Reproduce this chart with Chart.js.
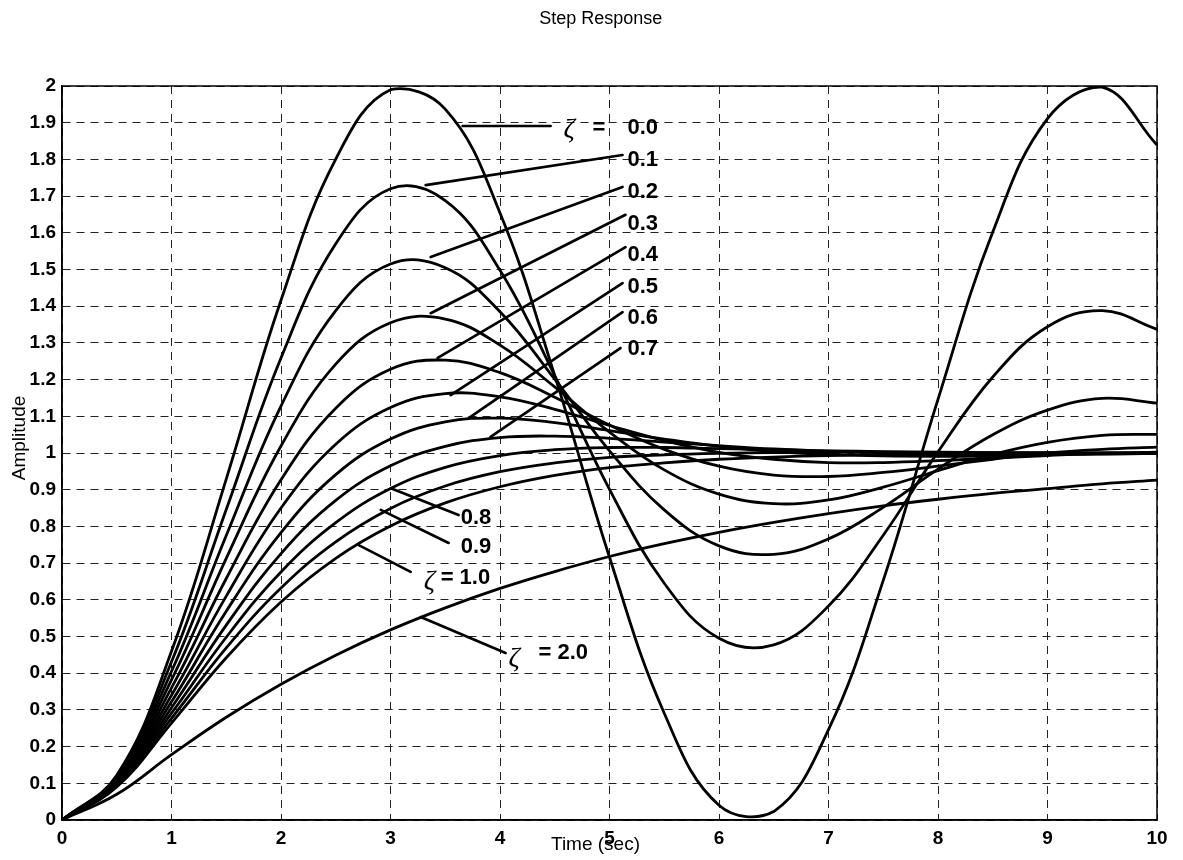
<!DOCTYPE html>
<html>
<head>
<meta charset="utf-8">
<script src="https://cdn.jsdelivr.net/npm/chart.js@4.4.0/dist/chart.umd.min.js"></script>
<style>
html,body{margin:0;padding:0;background:#fff;}
#wrap{width:1183px;height:860px;}
</style>
</head>
<body>
<div id="wrap"><canvas id="c" width="1183" height="860"></canvas></div>
<script>
// ---- data ----
const timeSec = [0,0.5,1,1.5,2,2.5,3,3.5,4,4.5,5,5.5,6,6.5,7,7.5,8,8.5,9,9.5,10];
const zetaNames = ['0.0','0.1','0.2','0.3','0.4','0.5','0.6','0.7','0.8','0.9','1.0','2.0'];
const zeta00 = [0,0.122,0.460,0.929,1.416,1.801,1.990,1.937,1.654,1.211,0.716,0.291,0.040,0.023,0.246,0.653,1.146,1.602,1.911,1.997,1.839];
const zeta01 = [0,0.118,0.431,0.846,1.259,1.570,1.720,1.688,1.498,1.211,0.901,0.645,0.495,0.477,0.583,0.776,1.003,1.207,1.344,1.388,1.337];
const zeta02 = [0,0.115,0.405,0.775,1.128,1.388,1.515,1.505,1.385,1.201,1.006,0.845,0.747,0.724,0.766,0.852,0.956,1.050,1.117,1.149,1.136];
const zeta03 = [0,0.111,0.382,0.713,1.019,1.242,1.355,1.365,1.294,1.180,1.057,0.954,0.888,0.862,0.872,0.907,0.952,0.996,1.029,1.048,1.051];
const zeta04 = [0,0.108,0.360,0.658,0.927,1.122,1.228,1.253,1.219,1.152,1.076,1.010,0.964,0.940,0.936,0.947,0.964,0.983,1.000,1.010,1.016];
const zeta05 = [0,0.104,0.340,0.610,0.850,1.024,1.124,1.162,1.153,1.119,1.075,1.034,1.002,0.983,0.974,0.974,0.979,0.986,0.993,0.999,1.002];
const zeta06 = [0,0.101,0.322,0.569,0.783,0.941,1.038,1.085,1.095,1.083,1.061,1.038,1.018,1.004,0.996,0.992,0.991,0.992,0.995,0.997,0.999];
const zeta07 = [0,0.098,0.306,0.531,0.726,0.871,0.965,1.018,1.042,1.046,1.040,1.030,1.020,1.011,1.005,1.001,0.999,0.998,0.998,0.998,0.999];
const zeta08 = [0,0.096,0.291,0.498,0.676,0.810,0.903,0.961,0.993,1.009,1.015,1.015,1.012,1.009,1.006,1.004,1.002,1.001,1.000,1.000,1.000];
const zeta09 = [0,0.093,0.277,0.469,0.632,0.758,0.849,0.910,0.949,0.973,0.988,0.995,0.999,1.001,1.002,1.002,1.001,1.001,1.001,1.000,1.000];
const zeta10 = [0,0.090,0.264,0.442,0.594,0.713,0.801,0.864,0.908,0.939,0.960,0.973,0.983,0.989,0.993,0.995,0.997,0.998,0.999,0.999,1.000];
const zeta20 = [0,0.070,0.178,0.280,0.370,0.449,0.518,0.578,0.631,0.677,0.718,0.753,0.784,0.811,0.835,0.856,0.874,0.890,0.903,0.916,0.926];
const seriesValues = [zeta00,zeta01,zeta02,zeta03,zeta04,zeta05,zeta06,zeta07,zeta08,zeta09,zeta10,zeta20];
const xTickValues = [0,1,2,3,4,5,6,7,8,9,10];
const yTickLabels = ['0','0.1','0.2','0.3','0.4','0.5','0.6','0.7','0.8','0.9','1','1.1','1.2','1.3','1.4','1.5','1.6','1.7','1.8','1.9','2'];
const chartTitle = 'Step Response';
const xAxisTitle = 'Time (sec)';
const yAxisTitle = 'Amplitude';
const zetaSymbol = 'ζ';

// ---- annotation placement (data coordinates) ----
const leaderLines = [
  [3.659,1.891, 4.462,1.891],
  [3.321,1.730, 5.119,1.812],
  [3.367,1.534, 5.119,1.725],
  [3.367,1.381, 5.146,1.649],
  [3.431,1.259, 5.146,1.561],
  [3.549,1.158, 5.119,1.463],
  [3.714,1.095, 5.119,1.384],
  [3.914,1.044, 5.100,1.286],
  [3.020,0.902, 3.622,0.831],
  [2.911,0.845, 3.531,0.755],
  [2.710,0.749, 3.184,0.676],
  [3.276,0.553, 4.051,0.455]
];
const numberLabels = [
  {text: zetaNames[0], t:5.164, v:1.886},
  {text: zetaNames[1], t:5.164, v:1.798},
  {text: zetaNames[2], t:5.164, v:1.711},
  {text: zetaNames[3], t:5.164, v:1.624},
  {text: zetaNames[4], t:5.164, v:1.540},
  {text: zetaNames[5], t:5.164, v:1.452},
  {text: zetaNames[6], t:5.164, v:1.368},
  {text: zetaNames[7], t:5.164, v:1.283},
  {text: zetaNames[8], t:3.641, v:0.823},
  {text: zetaNames[9], t:3.641, v:0.744},
  {text: '= ' + zetaNames[10], t:3.458, v:0.659},
  {text: '= ' + zetaNames[11], t:4.352, v:0.455},
  {text: '=', t:4.845, v:1.886}
];
const zetaGlyphs = [
  {t:4.580, v:1.880},
  {t:3.303, v:0.649},
  {t:4.078, v:0.439}
];

const FONT = '"Liberation Sans", Arial, sans-serif';

const overlay = {
  id: 'overlay',
  afterDraw(chart) {
    const {ctx, chartArea: a, scales: {x, y}} = chart;
    ctx.save();
    // axes box
    ctx.strokeStyle = '#000';
    ctx.lineWidth = 1.5;
    ctx.setLineDash([]);
    ctx.strokeRect(a.left, a.top, a.right - a.left, a.bottom - a.top);
    // leader lines
    ctx.lineWidth = 2.7;
    ctx.lineCap = 'round';
    leaderLines.forEach(l => {
      ctx.beginPath();
      ctx.moveTo(x.getPixelForValue(l[0]), y.getPixelForValue(l[1]));
      ctx.lineTo(x.getPixelForValue(l[2]), y.getPixelForValue(l[3]));
      ctx.stroke();
    });
    // number labels
    ctx.fillStyle = '#000';
    ctx.textBaseline = 'middle';
    ctx.textAlign = 'left';
    ctx.font = 'bold 22px ' + FONT;
    numberLabels.forEach(l => ctx.fillText(l.text, x.getPixelForValue(l.t), y.getPixelForValue(l.v)));
    ctx.font = 'italic 28px "Liberation Serif", "DejaVu Serif", serif';
    zetaGlyphs.forEach(g => ctx.fillText(zetaSymbol, x.getPixelForValue(g.t), y.getPixelForValue(g.v)));
    // titles
    ctx.textAlign = 'center';
    ctx.font = '18px ' + FONT;
    ctx.fillText(chartTitle, x.getPixelForValue(4.92), a.top - 67);
    ctx.font = '19px ' + FONT;
    ctx.fillText(xAxisTitle, x.getPixelForValue(4.872), a.bottom + 25);
    ctx.translate(a.left - 42, y.getPixelForValue(1.041));
    ctx.rotate(-Math.PI / 2);
    ctx.font = '19px ' + FONT;
    ctx.fillText(yAxisTitle, 0, 0);
    ctx.restore();
  }
};

const datasets = seriesValues.map((vals, i) => ({
  label: 'ζ = ' + zetaNames[i],
  data: timeSec.map((t, k) => ({x: t, y: vals[k]})),
  borderColor: '#000',
  borderWidth: 2.8,
  pointRadius: 0,
  tension: 0.4,
  fill: false
}));

const tickFont = {family: FONT, size: 19, weight: 'bold'};

new Chart(document.getElementById('c'), {
  type: 'line',
  data: {datasets},
  options: {
    responsive: false,
    animation: false,
    devicePixelRatio: 1,
    layout: {padding: {top: 86, right: 26, left: 0, bottom: 0}},
    plugins: {legend: {display: false}, tooltip: {enabled: false}, title: {display: false}},
    scales: {
      x: {
        type: 'linear', min: 0, max: 10,
        afterFit: s => { s.height = 40; },
        afterBuildTicks: s => { s.ticks = xTickValues.map(v => ({value: v})); },
        ticks: {color: '#000', font: tickFont, padding: 7, maxRotation: 0, autoSkip: false,
                callback: v => String(v)},
        grid: {color: '#222', lineWidth: 1, drawTicks: false},
        border: {display: true, color: '#000', width: 1.5, dash: [8, 6]}
      },
      y: {
        type: 'linear', min: 0, max: 2,
        afterFit: s => { s.width = 62; },
        afterBuildTicks: s => { s.ticks = yTickLabels.map(l => ({value: parseFloat(l)})); },
        ticks: {color: '#000', font: tickFont, padding: 6, autoSkip: false,
                callback: (v, i) => yTickLabels[i]},
        grid: {color: '#222', lineWidth: 1, drawTicks: false},
        border: {display: true, color: '#000', width: 1.5, dash: [8, 6]}
      }
    }
  },
  plugins: [overlay]
});
</script>
</body>
</html>
